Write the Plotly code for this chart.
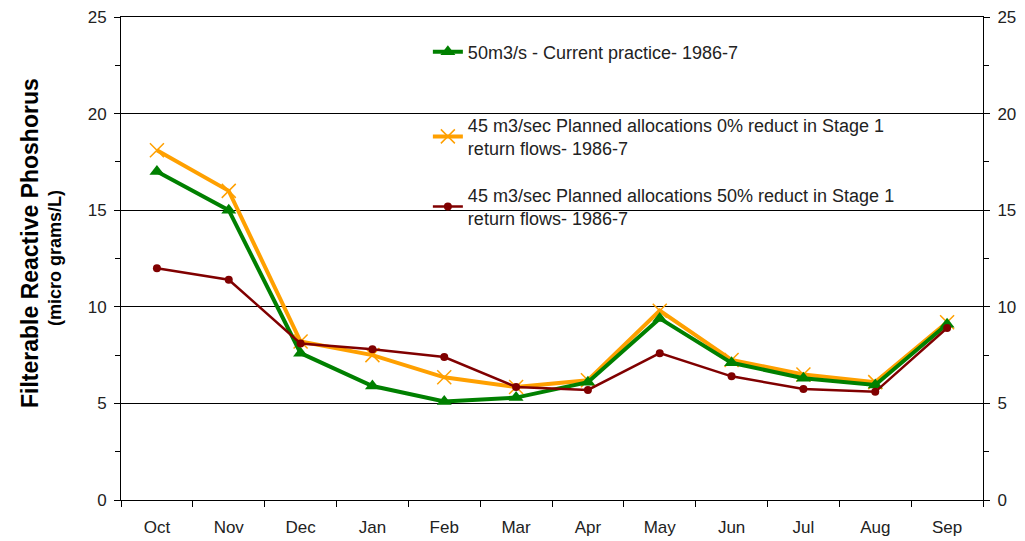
import plotly.graph_objects as go

months = ["Oct", "Nov", "Dec", "Jan", "Feb", "Mar", "Apr", "May", "Jun", "Jul", "Aug", "Sep"]

current_50 = [17.0, 15.0, 7.6, 5.9, 5.1, 5.3, 6.1, 9.4, 7.1, 6.3, 5.95, 9.1]
planned_0 = [18.1, 16.0, 8.2, 7.5, 6.35, 5.85, 6.2, 9.8, 7.25, 6.5, 6.1, 9.2]
planned_50 = [12.0, 11.4, 8.1, 7.8, 7.4, 5.85, 5.7, 7.6, 6.4, 5.75, 5.6, 8.9]

names = [
    "50m3/s - Current practice- 1986-7",
    "45 m3/sec Planned allocations 0% reduct in Stage 1<br>return flows- 1986-7",
    "45 m3/sec Planned allocations 50% reduct in Stage 1<br>return flows- 1986-7",
]

font = "Liberation Sans, Arial, sans-serif"

fig = go.Figure()

# orange first so green sits on top of it, red on top of both
fig.add_trace(go.Scatter(
    x=months, y=planned_0, name=names[1], mode="lines+markers",
    line=dict(color="#FFA000", width=4),
    marker=dict(symbol="x-thin", size=14, line=dict(color="#FFA000", width=1.5)),
    legend="legend2",
))
fig.add_trace(go.Scatter(
    x=months, y=current_50, name=names[0], mode="lines+markers",
    line=dict(color="#008000", width=4),
    marker=dict(symbol="triangle-up", size=13, color="#008000"),
    legend="legend",
))
fig.add_trace(go.Scatter(
    x=months, y=planned_50, name=names[2], mode="lines+markers",
    line=dict(color="#800000", width=2.5),
    marker=dict(symbol="circle", size=8, color="#800000"),
    legend="legend3",
))
# invisible trace so the right-hand axis is drawn
fig.add_trace(go.Scatter(
    x=months, y=current_50, yaxis="y2", mode="lines",
    line=dict(width=0, color="rgba(0,0,0,0)"), showlegend=False, hoverinfo="skip",
))

tickfont = dict(family=font, size=17, color="#222")
yax = dict(
    range=[0, 25], tickvals=[0, 5, 10, 15, 20, 25], showline=True, linecolor="black",
    linewidth=1, ticks="outside", ticklen=6, tickcolor="black",
    minor=dict(dtick=2.5, ticks="outside", ticklen=5, tickcolor="black", showgrid=False),
    tickfont=tickfont, zeroline=False, ticklabelstandoff=4, ticklabeloverflow="allow",
    automargin=False,
)

legfont = dict(family=font, size=18, color="#222")
leg = dict(x=0.356, xanchor="left", yanchor="middle", bgcolor="rgba(0,0,0,0)", font=legfont)

fig.update_layout(
    width=1025, height=541,
    margin=dict(l=113, r=50, t=9, b=49, autoexpand=False),
    paper_bgcolor="white", plot_bgcolor="white",
    font=dict(family=font, size=15, color="#222"),
    xaxis=dict(
        type="category", range=[-0.5, 11.5], tickson="boundaries", ticks="outside",
        ticklen=6, tickcolor="black", showline=True, mirror=True, linecolor="black",
        showgrid=False, tickfont=tickfont, ticklabelstandoff=12, automargin=False,
    ),
    yaxis=dict(**yax, showgrid=True, gridcolor="black", gridwidth=1),
    yaxis2=dict(**yax, overlaying="y", side="right", showgrid=False),
    legend=dict(**leg, y=0.9275),
    legend2=dict(**leg, y=0.7526),
    legend3=dict(**leg, y=0.6077),
    showlegend=True,
)

# white legend box hiding the gridlines behind it
fig.add_shape(
    type="rect", xref="paper", yref="paper", x0=0.341, x1=0.9095, y0=0.538, y1=0.973,
    fillcolor="white", line=dict(width=0), layer="between",
)

fig.add_annotation(
    text="<b>Filterable Reactive Phoshorus</b>", textangle=-90,
    x=-0.1056, y=0.532, xref="paper", yref="paper", xanchor="center", yanchor="middle",
    showarrow=False, font=dict(family=font, size=23, color="black"),
)
fig.add_annotation(
    text="<b>(micro grams/L)</b>", textangle=-90,
    x=-0.0766, y=0.501, xref="paper", yref="paper", xanchor="center", yanchor="middle",
    showarrow=False, font=dict(family=font, size=18, color="black"),
)

fig.write_html("out.html")
